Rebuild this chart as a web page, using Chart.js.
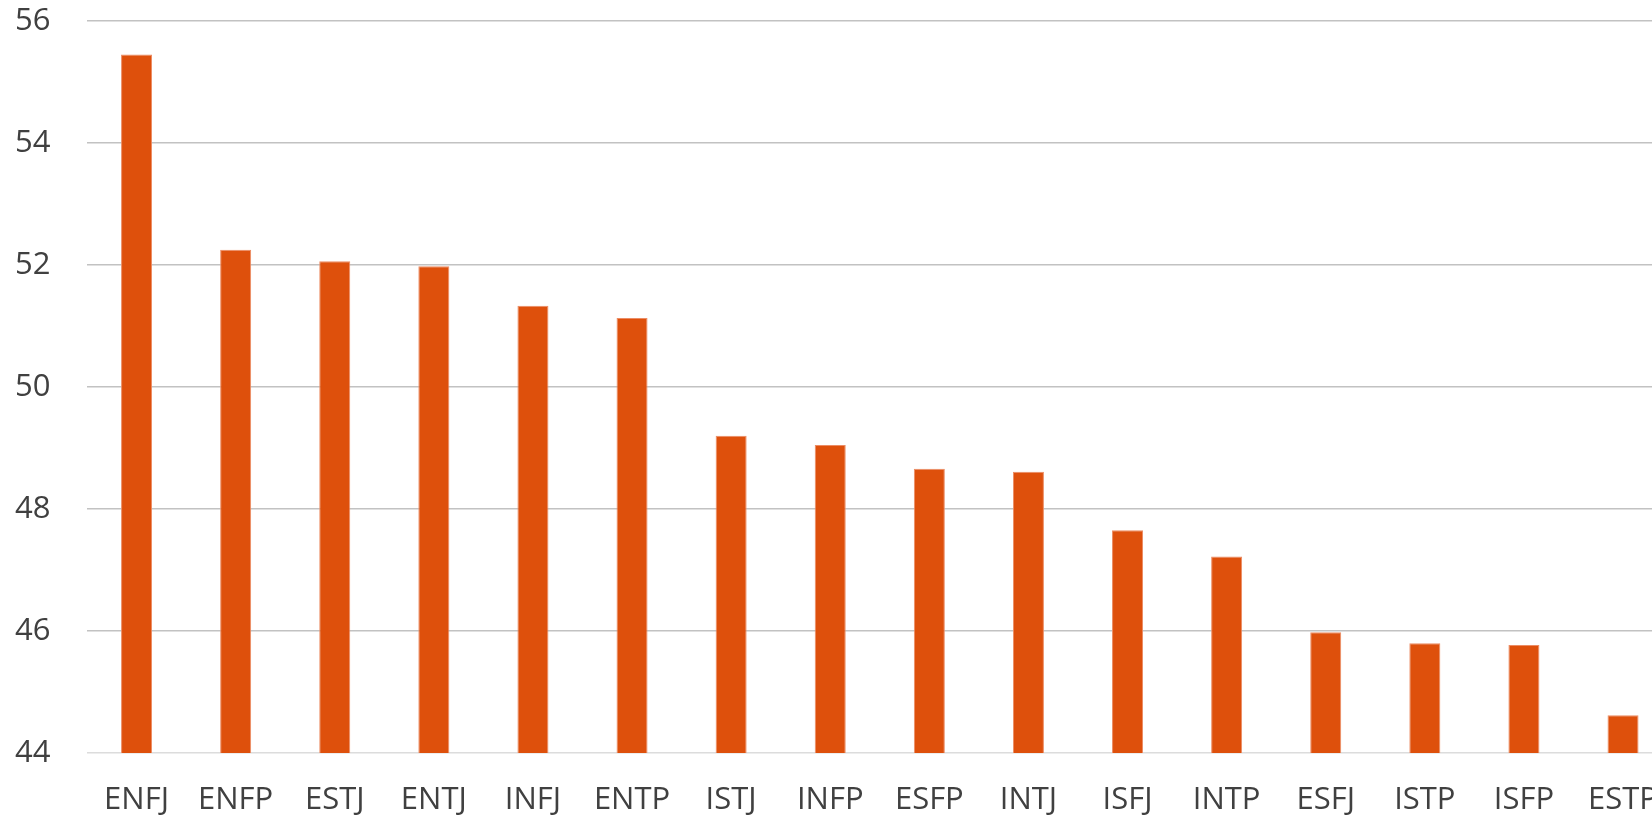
<!DOCTYPE html>
<html>
<head>
<meta charset="utf-8">
<script src="https://cdn.jsdelivr.net/npm/chart.js@4.4.1/dist/chart.umd.min.js"></script>
<style>
    html, body { margin: 0; padding: 0; background: #ffffff; overflow: hidden; }
    #wrap { width: 1687px; height: 817px; position: relative; }
</style>
</head>
<body>
<div id="wrap"><canvas id="typeChart"></canvas></div>
<script>
// Типы личности и средние значения
const typeNames = ['ENFJ', 'ENFP', 'ESTJ', 'ENTJ', 'INFJ', 'ENTP', 'ISTJ', 'INFP',
                   'ESFP', 'INTJ', 'ISFJ', 'INTP', 'ESFJ', 'ISTP', 'ISFP', 'ESTP'];
const typeScores = [55.45, 52.25, 52.06, 51.98, 51.33, 51.13, 49.20, 49.05,
                    48.66, 48.61, 47.65, 47.22, 45.98, 45.80, 45.77, 44.62];
const yTicks = [44, 46, 48, 50, 52, 54, 56];

const textColor = '#404040';
const labelFont = { family: "'Open Sans', sans-serif", size: 31 };

const typeCtx = document.getElementById('typeChart').getContext('2d');
const typeChart = new Chart(typeCtx, {
    type: 'bar',
    data: {
        labels: typeNames,
        datasets: [{
            data: typeScores,
            backgroundColor: '#DE500C',
            borderColor: 'rgba(236, 140, 100, 1)',
            borderWidth: 1,
            categoryPercentage: 1,
            barPercentage: 0.313
        }]
    },
    options: {
        responsive: true,
        maintainAspectRatio: false,
        animation: false,
        layout: {
            padding: { top: 21, right: 0, bottom: 0, left: 15 }
        },
        plugins: {
            legend: { display: false },
            tooltip: { enabled: false }
        },
        scales: {
            x: {
                grid: { display: false, drawTicks: false },
                border: { display: false },
                afterFit: function(axis) {
                    axis.height = 64;
                },
                ticks: {
                    color: textColor,
                    font: labelFont,
                    padding: 29,
                    maxRotation: 0,
                    autoSkip: false
                }
            },
            y: {
                min: yTicks[0],
                max: yTicks[yTicks.length - 1],
                afterBuildTicks: function(axis) {
                    axis.ticks = yTicks.map(v => ({ value: v }));
                },
                afterFit: function(axis) {
                    axis.width = 72;
                },
                grid: {
                    drawTicks: false,
                    lineWidth: 1.5,
                    color: function(context) {
                        return context.tick && context.tick.value === 44 ? '#dcdcdc' : '#c2c2c2';
                    }
                },
                border: { display: false },
                ticks: {
                    color: textColor,
                    font: labelFont,
                    padding: 0,
                    crossAlign: 'far'
                }
            }
        }
    }
});
</script>
</body>
</html>
